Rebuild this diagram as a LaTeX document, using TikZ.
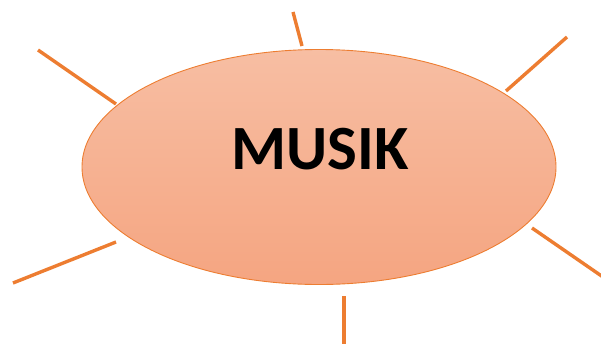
\documentclass[tikz,border=0pt]{standalone}
\usepackage{fontspec}
\setmainfont{Carlito}
\usepackage{tikz}
\usetikzlibrary{shapes.geometric,positioning}
\definecolor{mkorange}{HTML}{ED7D31}
\definecolor{mkhaut}{HTML}{F7BEA3}
\definecolor{mkbas}{HTML}{F5A581}

\begin{document}
\begin{tikzpicture}[x=1pt,y=-1pt,
  rayon/.style={mkorange,line width=3.4pt},
  bulle/.style={ellipse,draw=mkorange,line width=0.9pt,top color=mkhaut,bottom color=mkbas,minimum width=474pt,minimum height=235pt,inner sep=0pt}]
  \useasboundingbox (0,0) rectangle (601,343);
  \node[bulle] (bulle) at (319,167) {};
  \node[font=\fontsize{63}{63}\selectfont\bfseries] (musik) at (320,149) {MUSIK};
  % rayons autour de la bulle
  \coordinate (h1) at (293,12);   \coordinate (h2) at (302,46);
  \coordinate (hg1) at (38,50);   \coordinate (hg2) at (116,104);
  \coordinate (hd1) at (567,37);  \coordinate (hd2) at (506,91);
  \coordinate (bg1) at (13,283);  \coordinate (bg2) at (116,242);
  \coordinate (bd1) at (532,228); \coordinate (bd2) at (603,277);
  \coordinate (b1) at (344,296);  \coordinate (b2) at (344,345);
  \foreach \a/\b in {h1/h2,hg1/hg2,hd1/hd2,bg1/bg2,bd1/bd2,b1/b2}
    \draw[rayon] (\a) -- (\b);
\end{tikzpicture}
\end{document}
